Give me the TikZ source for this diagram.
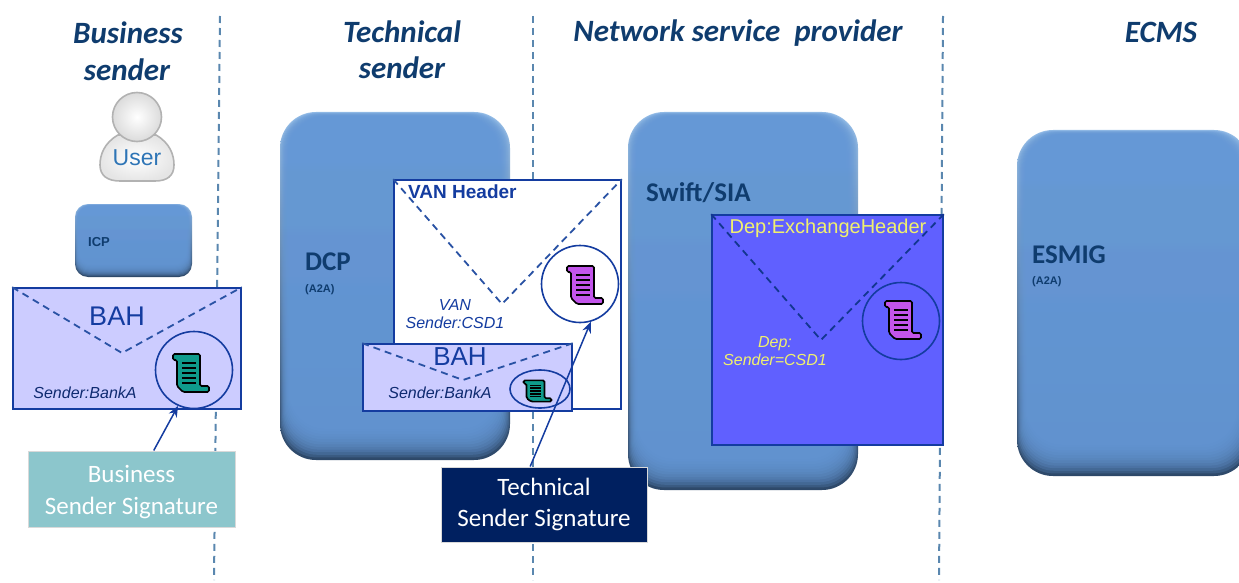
\documentclass[tikz,border=0pt]{standalone}
\usepackage{fontspec}
\setmainfont{Liberation Sans}
\newfontfamily\headfont{Carlito}
\usetikzlibrary{arrows.meta,positioning,shapes.geometric}
\definecolor{pfblue}{RGB}{101,152,214}
\definecolor{pflight}{RGB}{150,190,232}
\definecolor{pfdark}{RGB}{45,72,105}
\definecolor{ecnavy}{RGB}{15,60,110}
\definecolor{ecline}{RGB}{20,60,160}
\definecolor{ecdash}{RGB}{90,135,175}
\definecolor{ecbah}{RGB}{204,204,255}
\definecolor{ecdep}{RGB}{96,96,255}
\definecolor{ecyellow}{RGB}{240,240,110}
\definecolor{ecteal}{RGB}{140,198,204}
\definecolor{ecdeep}{RGB}{0,32,96}
\definecolor{sealgreen}{RGB}{15,155,140}
\definecolor{sealpurple}{RGB}{195,85,235}
\newcommand{\fsz}[1]{\fontsize{#1}{#1}\selectfont}
\tikzstyle{arrow} = [line width=1.5pt,-{Stealth[length=11pt,width=9pt]},color=ecline]
\tikzstyle{boundary} = [line width=2pt,color=ecdash,dash pattern=on 7pt off 5pt]
\tikzstyle{headline} = [font=\headfont\bfseries\itshape\fsz{31},color=ecnavy,inner sep=0pt]
\tikzstyle{pfname} = [anchor=west,inner sep=0pt,color=ecnavy]
\tikzstyle{envelope} = [rectangle,draw=ecline,line width=1.6pt,inner sep=0pt]
\tikzstyle{flap} = [line width=1.8pt,color=ecline!70!ecdash,dash pattern=on 7pt off 5pt]
\tikzstyle{seal} = [circle,draw=ecline,line width=1.6pt,inner sep=0pt,minimum size=77pt]
\tikzstyle{note} = [font=\itshape\fsz{16},inner sep=0pt]
\tikzstyle{signature} = [rectangle,draw=black!15,line width=1pt,inner sep=0pt,align=center,text=white,font=\headfont\fsz{25}]
\tikzset{
  pics/scrollicon/.style={code={
    \path[draw=black,line width=1.7pt,fill=#1,rounded corners=1.5pt]
      (-18,-19) -- (9,-19) -- (9,13) -- (18,13) -- (18,19) -- (-8,19) -- (-14,13) -- (-14,-13) -- (-18,-13) -- cycle;
    \foreach \ypos in {-10,-5,0,5,10}
      \draw[black,line width=1.5pt] (-9,\ypos) -- (5,\ypos);
  }}
}
% platform: name, x1, y1, x2, y2, corner radius, edge scale
\newcommand{\platform}[7]{
  \shade[top color=pflight,middle color=pfdark!65!pfblue,bottom color=pfdark,rounded corners=#6pt]
    (#2,#3) rectangle (#4,#5);
  \foreach \i in {1,...,12}
    \fill[pfblue,opacity=.22,rounded corners=#6pt]
      (#2+.8*#7*\i,#3+.4*#7*\i) rectangle (#4-1.1*#7*\i,#5-2.6*#7*\i);
  \coordinate (#1) at (#2,#3);
}
\begin{document}
\begin{tikzpicture}[x=1pt,y=-1pt]
\useasboundingbox (0,0) rectangle (1239,583);

% Boundaries
\coordinate (bnda) at (220,16);
\coordinate (bndb) at (214,580);
\coordinate (bndc) at (533,16);
\coordinate (bndd) at (533,580);
\coordinate (bnde) at (943,16);
\coordinate (bndf) at (939,580);
\draw[boundary] (bnda) -- (bndb);
\draw[boundary] (bndc) -- (bndd);
\draw[boundary] (bnde) -- (bndf);

% Titles
\node[headline] (bustitlea) at (128,33) {Business};
\node[headline] (bustitleb) at (127,70) {sender};
\node[headline] (techtitlea) at (402,32) {Technical};
\node[headline] (techtitleb) at (402,68) {sender};
\node[headline] (nettitle) at (738,33) {Network service\ \ provider};
\node[headline] (ecmstitle) at (1161,32) {ECMS};

% Platforms
\platform{dcpbox}{280}{112}{510}{460}{36}{1}
\platform{swiftbox}{628}{112}{858}{490}{36}{1}
\platform{esmigbox}{1017}{130}{1250}{476}{36}{1}
\platform{icpbox}{75}{204}{192}{277}{13}{.4}
\node[pfname,font=\bfseries\fsz{13}] (icp) at (88,242) {ICP};
\node[pfname,font=\headfont\bfseries\fsz{27}] (dcp) at (305,262) {DCP};
\node[pfname,font=\bfseries\fsz{11}] (dcpsub) at (305,290) {(A2A)};
\node[pfname,font=\headfont\bfseries\fsz{27}] (swift) at (646,193) {Swift/SIA};
\node[pfname,font=\headfont\bfseries\fsz{27}] (esmig) at (1032,255) {ESMIG};
\node[pfname,font=\bfseries\fsz{11}] (esmigsub) at (1032,282) {(A2A)};

% User
\filldraw[draw=black!30,line width=1.6pt,inner color=white,outer color=black!10]
  (118,135) .. controls (104,143) and (100,155) .. (100,165)
  .. controls (100,176) and (108,181) .. (120,181) -- (155,181)
  .. controls (167,181) and (174,176) .. (174,165)
  .. controls (174,155) and (170,143) .. (156,135) -- cycle;
\filldraw[draw=black!30,line width=1.6pt,inner color=white,outer color=black!14] (137,117) circle (24.5);
\node[inner sep=0pt,font=\fsz{23},color={rgb,255:red,46;green,117;blue,182}] (user) at (137,158) {User};

% Business sender envelope
\node[envelope,fill=ecbah,minimum width=228pt,minimum height=121pt] (busenv) at (127,348.5) {};
\coordinate (busapex) at (122,353);
\draw[flap] (busenv.north west) -- (busapex) -- (busenv.north east);
\node[inner sep=0pt,font=\fsz{27},color=ecline] (busbah) at (117,316) {BAH};
\node[note,color=ecline!70!black] (bussend) at (85,393) {Sender:BankA};
\node[seal] (busseal) at (194,370) {};
\pic at (191,373) {scrollicon=sealgreen};

% Technical sender envelope
\node[envelope,fill=white,minimum width=227pt,minimum height=229pt] (vanenv) at (507.5,294.5) {};
\coordinate (vanapex) at (502,304);
\draw[flap] (vanenv.north west) -- (vanapex) -- (vanenv.north east);
\node[anchor=west,inner sep=0pt,font=\bfseries\fsz{19},color=ecline] (vanhead) at (408,192) {VAN Header};
\node[note,color=ecline,align=center] (vansend) at (455,314) {VAN\\[2pt]Sender:CSD1};
\node[seal] (vanseal) at (580,284) {};
\pic at (585,285) {scrollicon=sealpurple};

% Inner BAH
\node[envelope,fill=ecbah,minimum width=209pt,minimum height=67pt] (inenv) at (467.5,377.5) {};
\coordinate (inapex) at (463,380);
\draw[flap] (inenv.north west) -- (inapex) -- (inenv.north east);
\node[inner sep=0pt,font=\fsz{26},color=ecline] (inbah) at (460,357) {BAH};
\node[note,color=ecline!70!black] (insend) at (440,393) {Sender:BankA};
\node[ellipse,draw=ecline,line width=1.6pt,inner sep=0pt,minimum width=60pt,minimum height=38pt] (inseal) at (540,389) {};
\pic[yscale=.56,xscale=.78] at (537.5,391) {scrollicon=sealgreen};

% Depository envelope
\node[envelope,fill=ecdep,minimum width=231pt,minimum height=230pt] (depenv) at (827.5,330) {};
\coordinate (depapex) at (821,340);
\draw[flap,color=ecline!90!black] (depenv.north west) -- (depapex) -- (depenv.north east);
\node[inner sep=0pt,font=\fsz{20},color=ecyellow] (dephead) at (828,228) {Dep:ExchangeHeader};
\node[note,color=ecyellow,align=center] (depsend) at (775,351) {Dep:\\[2pt]Sender=CSD1};
\node[seal] (depseal) at (901,321) {};
\pic at (903,320) {scrollicon=sealpurple};

% Signatures
\node[signature,fill=ecteal,minimum width=207pt,minimum height=76pt] (bussig) at (131.5,489) {\rule{0pt}{23pt}Business\\[7pt]Sender Signature};
\node[signature,fill=ecdeep,minimum width=206pt,minimum height=75pt] (techsig) at (544,504.5) {Technical\\[6pt]Sender Signature};
\draw[arrow] (bussig.60) -- (busseal.246);
\draw[arrow] (techsig.110) -- (vanseal.286);
\end{tikzpicture}
\end{document}
